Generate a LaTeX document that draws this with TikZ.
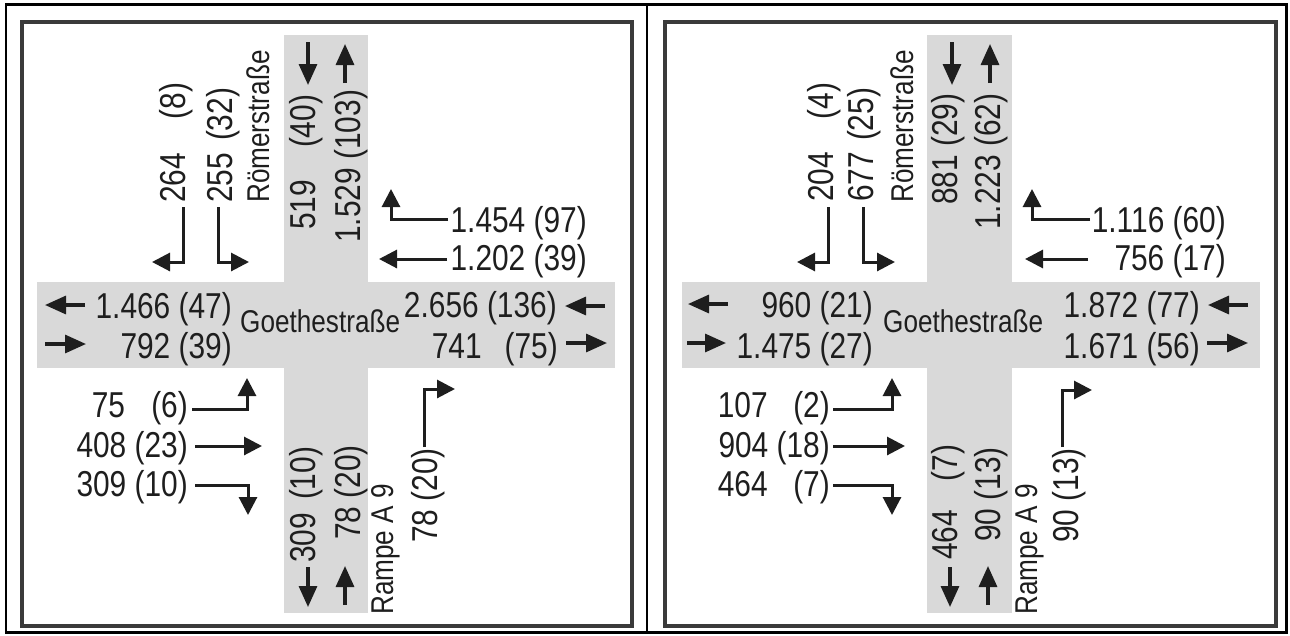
\documentclass[tikz,border=0pt]{standalone}
\usepackage{fontspec}
\setmainfont{Liberation Sans}[FakeStretch=0.83]
\usetikzlibrary{arrows.meta}
\definecolor{roadgray}{RGB}{217,217,217}
\definecolor{framegray}{RGB}{58,58,58}
\definecolor{ink}{RGB}{30,30,30}
\tikzset{
  num/.style={inner sep=0pt, text=ink, font=\fontsize{36}{40}\selectfont},
  street/.style={inner sep=0pt, text=ink, font=\fontsize{31.5}{35}\selectfont},
  vert/.style={rotate=90, anchor=base west},
  hr/.style={anchor=base east},
  hl/.style={anchor=base west},
  flow/.style={draw=ink, line width=3pt, -{Triangle[length=18pt,width=18pt]}},
  roadflow/.style={draw=ink, line width=3.2pt, -{Triangle[length=21pt,width=18pt]}},
  road/.style={fill=roadgray, draw=none},
  outerframe/.style={draw=black, line width=2.5pt},
  innerframe/.style={draw=framegray, line width=4pt},
}
\newcommand{\gapbox}[3]{\makebox[#1pt]{#2\hfill#3}}
\begin{document}
\begin{tikzpicture}[x=1pt,y=-1pt]
\useasboundingbox (0,0) rectangle (1290,635);
% ---------------- roads ----------------
\fill[road] (284,35) rectangle (368,613);
\fill[road] (37,282) rectangle (615,368);
\fill[road] (927,35) rectangle (1012,613);
\fill[road] (682,282) rectangle (1260,368);
% ---------------- frames ----------------
\draw[outerframe] (6,4.5) rectangle (1286.5,632.5);
\draw[outerframe] (647,4.5) -- (647,632.5);
\draw[innerframe] (22,21.5) rectangle (631.5,625.5);
\draw[innerframe] (664.5,21.5) rectangle (1275.5,625.5);

% ================= LEFT PANEL =================
% vertical texts
\node[num,vert] (l264) at (185,203) {\gapbox{120}{264}{(8)}};
\node[num,vert] (l255) at (232,203) {\gapbox{115}{255}{(32)}};
\node[street,vert] (lroem) at (269,203) {Römerstraße};
\node[num,vert] (l519) at (315,230) {\gapbox{135}{519}{(40)}};
\node[num,vert] (l1529) at (360,243) {1.529 (103)};
\node[num,vert] (l309v) at (315,563) {\gapbox{116}{309}{(10)}};
\node[num,vert] (l78a) at (360,540) {78 (20)};
\node[street,vert] (lrampe) at (393,615) {Rampe A 9};
\node[num,vert] (l78b) at (437,543) {78 (20)};
% horizontal texts
\node[num,hr] (l1454) at (587,232) {1.454 (97)};
\node[num,hr] (l1202) at (587,270) {1.202 (39)};
\node[num,hr] (l1466) at (232,318) {1.466 (47)};
\node[num,hr] (l792) at (232,358) {792 (39)};
\node[street,hl] (lgoethe) at (240,332) {Goethestraße};
\node[num,hr] (l2656) at (557,317) {2.656 (136)};
\node[num,hr] (l741) at (558,358) {\gapbox{126}{741}{(75)}};
\node[num,hr] (l75) at (188,417) {\gapbox{96}{75}{(6)}};
\node[num,hr] (l408) at (188,457) {408 (23)};
\node[num,hr] (l309h) at (188,496) {309 (10)};
% arrows
\draw[roadflow] (308,42) -- (308,85);
\draw[roadflow] (345,83) -- (345,44);
\draw[flow] (183,207) -- (183,262) -- (152,262);
\draw[flow] (218,207) -- (218,262) -- (249,262);
\draw[flow] (448,219) -- (391,219) -- (391,189);
\draw[flow] (447,259) -- (379,259);
\draw[roadflow] (85,305) -- (45,305);
\draw[roadflow] (45,344) -- (86,344);
\draw[roadflow] (605,306) -- (565,306);
\draw[roadflow] (566,343) -- (607,343);
\draw[flow] (192,409) -- (247,409) -- (247,378);
\draw[flow] (195,446) -- (262,446);
\draw[flow] (195,485) -- (248,485) -- (248,515);
\draw[roadflow] (308,567) -- (308,607);
\draw[roadflow] (345,605) -- (345,566);
\draw[flow] (424,447) -- (424,389) -- (455,389);

% ================= RIGHT PANEL =================
\node[num,vert] (r204) at (833,202) {\gapbox{119}{204}{(4)}};
\node[num,vert] (r677) at (873,202) {\gapbox{114}{677}{(25)}};
\node[street,vert] (rroem) at (913,203) {Römerstraße};
\node[num,vert] (r881) at (957,205) {881 (29)};
\node[num,vert] (r1223) at (1000,230) {1.223 (62)};
\node[num,vert] (r464v) at (957,560) {\gapbox{115}{464}{(7)}};
\node[num,vert] (r90a) at (1000,542) {90 (13)};
\node[street,vert] (rrampe) at (1037,615) {Rampe A 9};
\node[num,vert] (r90b) at (1078,543) {90 (13)};
\node[num,hr] (r1116) at (1226,232) {1.116 (60)};
\node[num,hr] (r756) at (1226,270) {756 (17)};
\node[num,hr] (r960) at (873,317) {960 (21)};
\node[num,hr] (r1475) at (873,358) {1.475 (27)};
\node[street,hl] (rgoethe) at (883,332) {Goethestraße};
\node[num,hr] (r1872) at (1200,317) {1.872 (77)};
\node[num,hr] (r1671) at (1200,358) {1.671 (56)};
\node[num,hr] (r107) at (830,417) {\gapbox{112}{107}{(2)}};
\node[num,hr] (r904) at (830,457) {904 (18)};
\node[num,hr] (r464h) at (830,496) {\gapbox{112}{464}{(7)}};
\draw[roadflow] (952,42) -- (952,85);
\draw[roadflow] (990,83) -- (990,44);
\draw[flow] (828,207) -- (828,262) -- (797,262);
\draw[flow] (863,207) -- (863,262) -- (895,262);
\draw[flow] (1090,219) -- (1032,219) -- (1032,189);
\draw[flow] (1088,259) -- (1025,259);
\draw[roadflow] (728,304) -- (688,304);
\draw[roadflow] (687,343) -- (726,343);
\draw[roadflow] (1248,305) -- (1208,305);
\draw[roadflow] (1207,343) -- (1248,343);
\draw[flow] (833,409) -- (892,409) -- (892,378);
\draw[flow] (833,446) -- (905,446);
\draw[flow] (833,485) -- (892,485) -- (892,515);
\draw[roadflow] (950,567) -- (950,607);
\draw[roadflow] (988,605) -- (988,566);
\draw[flow] (1062,447) -- (1062,390) -- (1092,390);
\end{tikzpicture}
\end{document}
